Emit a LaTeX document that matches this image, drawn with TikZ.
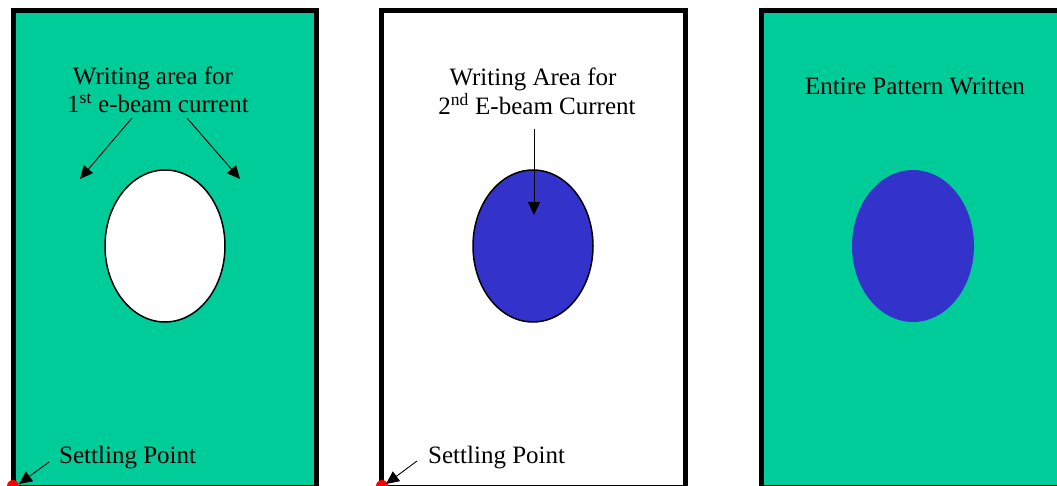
\documentclass[tikz,border=0pt]{standalone}
\usepackage{fontspec}
\setmainfont{Liberation Serif}
\usetikzlibrary{arrows.meta,shapes.geometric}
\definecolor{PatternGreen}{RGB}{0,204,153}
\definecolor{PatternBlue}{RGB}{51,51,204}
\definecolor{PointRed}{RGB}{255,0,0}

\begin{document}
\begin{tikzpicture}[x=1pt, y=-1pt, >={Triangle[length=13pt, width=12pt]},
    every node/.style={font=\fontsize{25}{28}\selectfont, inner sep=0pt},
    panel/.style={draw=black, line width=5pt},
    spot/.style={ellipse, minimum width=120pt, minimum height=152pt},
    note/.style={anchor=base},
    dot/.style={circle, fill=PointRed, minimum size=12pt},
    pointer/.style={->, line width=0.9pt}]
\useasboundingbox (0,0) rectangle (1057,486);
% the three frames
\fill[PatternGreen] (13.5,10.5) rectangle (316,487);
\draw[panel] (13.5,10.5) rectangle (316,487);
\draw[panel] (381.5,10.5) rectangle (685.5,487);
\fill[PatternGreen] (761,10.5) rectangle (1065,487);
\draw[panel] (761,10.5) rectangle (1065,487);
% ellipses
\node[spot, draw, fill=white, line width=1.5pt] (hole1) at (165,246) {};
\node[spot, draw, fill=PatternBlue, line width=1.5pt] (hole2) at (533,246) {};
\node[spot, fill=PatternBlue, minimum width=122pt] (hole3) at (913,246) {};
% texts
\node[note] (area1a) at (153,85) {Writing area for};
\node[note] (area1b) at (158,113) {1\textsuperscript{st} e-beam current};
\node[note] (area2a) at (533,86) {Writing Area for};
\node[note] (area2b) at (537,115) {2\textsuperscript{nd} E-beam Current};
\node[note] (whole) at (915,95) {Entire Pattern Written};
\node[note, anchor=base west] (settle1) at (59,463) {Settling Point};
\node[note, anchor=base west] (settle2) at (428,463) {Settling Point};
% settling points
\node[dot] (point1) at (13,486) {};
\node[dot] (point2) at (382,486) {};
% arrows
\coordinate (a1s) at (132,118);
\coordinate (a1e) at (80,179);
\coordinate (a2s) at (187,118);
\coordinate (a2e) at (240,179);
\coordinate (a3s) at (534,129);
\coordinate (a3e) at (534,215);
\coordinate (p1s) at (49,462);
\coordinate (p1e) at (19,484);
\coordinate (p2s) at (417,461);
\coordinate (p2e) at (386,484);
\draw[pointer] (a1s) -- (a1e);
\draw[pointer] (a2s) -- (a2e);
\draw[pointer] (a3s) -- (a3e);
\draw[pointer] (p1s) -- (p1e);
\draw[pointer] (p2s) -- (p2e);
\end{tikzpicture}
\end{document}
